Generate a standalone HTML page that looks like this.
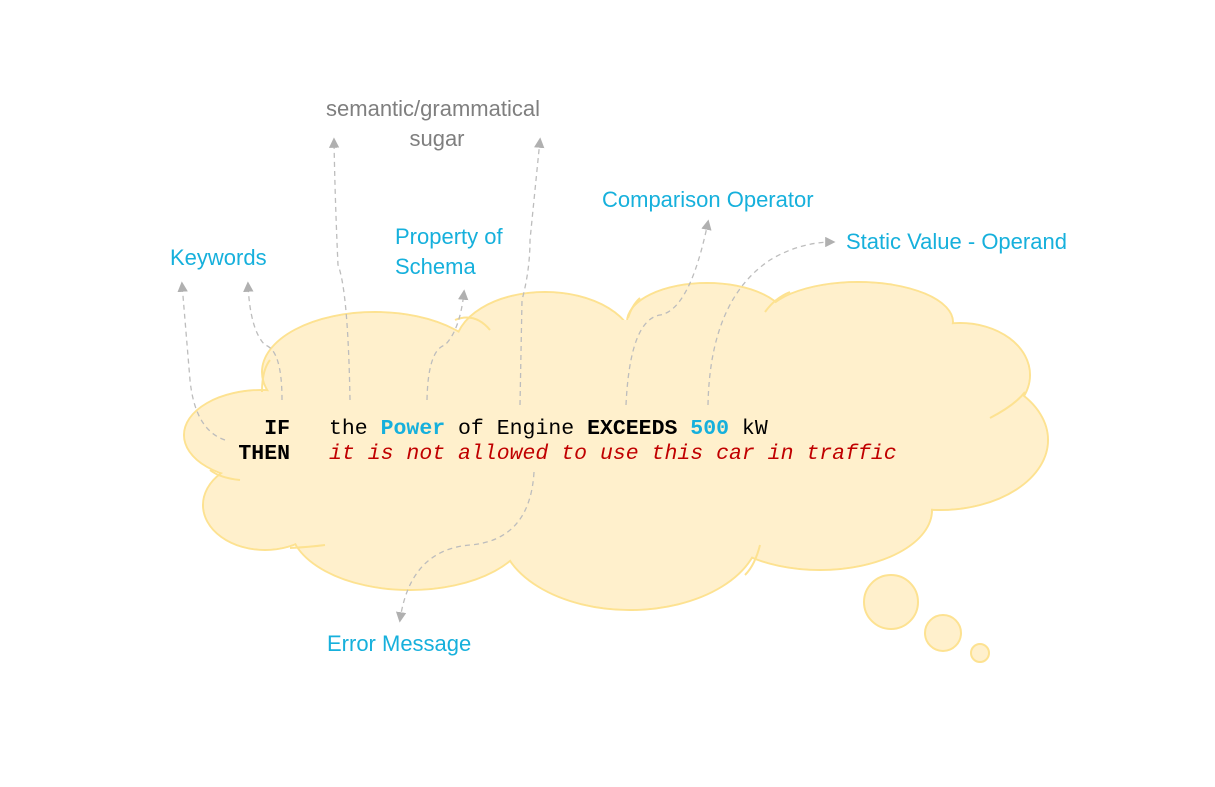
<!DOCTYPE html>
<html><head><meta charset="utf-8"><style>
html,body{margin:0;padding:0;background:#fff}
svg{display:block}
.lbl{font-family:"Liberation Sans",sans-serif;font-size:22px}
.code{font-family:"Liberation Mono",monospace;font-size:21.5px}
</style></head><body>
<svg width="1215" height="787" viewBox="0 0 1215 787">
<defs>
<marker id="ah" markerWidth="8" markerHeight="8" refX="6" refY="4" orient="auto"><path d="M0,0 L8,4 L0,8 Z" fill="#b0b0b0"/></marker>
</defs>
<g>
<g stroke="#fde291" stroke-width="2" fill="#fff0cc">
<ellipse cx="262" cy="435" rx="78" ry="45"/>
<ellipse cx="375" cy="372" rx="113" ry="60"/>
<ellipse cx="545" cy="347" rx="90" ry="55"/>
<ellipse cx="707" cy="322" rx="80" ry="39"/>
<ellipse cx="858" cy="322" rx="95" ry="40"/>
<ellipse cx="960" cy="375" rx="70" ry="52"/>
<ellipse cx="940" cy="440" rx="108" ry="70"/>
<ellipse cx="820" cy="510" rx="112" ry="60"/>
<ellipse cx="630" cy="530" rx="130" ry="80"/>
<ellipse cx="410" cy="525" rx="120" ry="65"/>
<ellipse cx="265" cy="505" rx="62" ry="45"/>
</g>
<g fill="#fff0cc">
<ellipse cx="262" cy="435" rx="77" ry="44"/>
<ellipse cx="375" cy="372" rx="112" ry="59"/>
<ellipse cx="545" cy="347" rx="89" ry="54"/>
<ellipse cx="707" cy="322" rx="79" ry="38"/>
<ellipse cx="858" cy="322" rx="94" ry="39"/>
<ellipse cx="960" cy="375" rx="69" ry="51"/>
<ellipse cx="940" cy="440" rx="107" ry="69"/>
<ellipse cx="820" cy="510" rx="111" ry="59"/>
<ellipse cx="630" cy="530" rx="129" ry="79"/>
<ellipse cx="410" cy="525" rx="119" ry="64"/>
<ellipse cx="265" cy="505" rx="61" ry="44"/>
<rect x="300" y="360" width="600" height="160"/>
<rect x="520" y="320" width="420" height="60"/>
</g>
<g stroke="#fde291" stroke-width="2" fill="none">
<path d="M262,392 Q262,370 270,360"/>
<path d="M455,320 Q475,312 490,330"/>
<path d="M628,318 Q632,305 640,298"/>
<path d="M765,312 Q775,298 790,292"/>
<path d="M990,418 Q1015,405 1025,392"/>
<path d="M240,480 Q220,478 210,470"/>
<path d="M290,548 Q310,547 325,545"/>
<path d="M760,545 Q755,565 745,575"/>
</g>
<circle cx="891" cy="602" r="27" fill="#fff0cc" stroke="#fde291" stroke-width="2"/>
<circle cx="943" cy="633" r="18" fill="#fff0cc" stroke="#fde291" stroke-width="2"/>
<circle cx="980" cy="653" r="9" fill="#fff0cc" stroke="#fde291" stroke-width="2"/>
</g>
<g stroke="#bdbdbd" stroke-width="1.3" stroke-dasharray="5,4" fill="none">
<path d="M225,440 Q195,430 190,380 Q185,320 182,284" marker-end="url(#ah)"/>
<path d="M282,400 Q282,350 265,345 Q250,330 248,284" marker-end="url(#ah)"/>
<path d="M350,400 Q348,290 338,265 Q335,200 334,140" marker-end="url(#ah)"/>
<path d="M427,400 Q428,350 445,345 Q460,330 464,292" marker-end="url(#ah)"/>
<path d="M520,405 L522,300 Q530,270 530,240 L540,140" marker-end="url(#ah)"/>
<path d="M626,405 Q630,320 660,315 Q690,310 708,222" marker-end="url(#ah)"/>
<path d="M708,405 Q710,300 770,260 Q800,242 833,242" marker-end="url(#ah)"/>
<path d="M534,472 Q530,540 470,545 Q410,550 400,620" marker-end="url(#ah)"/>
</g>
<g class="lbl">
<text x="433" y="116" text-anchor="middle" fill="#7f7f7f">semantic/grammatical</text>
<text x="437" y="146" text-anchor="middle" fill="#7f7f7f">sugar</text>
<text x="170" y="265" fill="#16b0dc">Keywords</text>
<text x="395" y="244" fill="#16b0dc">Property of</text>
<text x="395" y="274" fill="#16b0dc">Schema</text>
<text x="602" y="207" fill="#16b0dc">Comparison Operator</text>
<text x="846" y="249" fill="#16b0dc">Static Value - Operand</text>
<text x="327" y="651" fill="#16b0dc">Error Message</text>
</g>
<g class="code">
<text x="290" y="434" text-anchor="end" font-weight="bold" fill="#000">IF</text>
<text x="290" y="459" text-anchor="end" font-weight="bold" fill="#000">THEN</text>
<text x="329" y="434" fill="#000">the <tspan fill="#16b0dc" font-weight="bold">Power</tspan> of Engine <tspan font-weight="bold">EXCEEDS</tspan> <tspan fill="#16b0dc" font-weight="bold">500</tspan> kW</text>
<text x="329" y="459" fill="#c00000" font-style="italic">it is not allowed to use this car in traffic</text>
</g>
</svg>
</body></html>
